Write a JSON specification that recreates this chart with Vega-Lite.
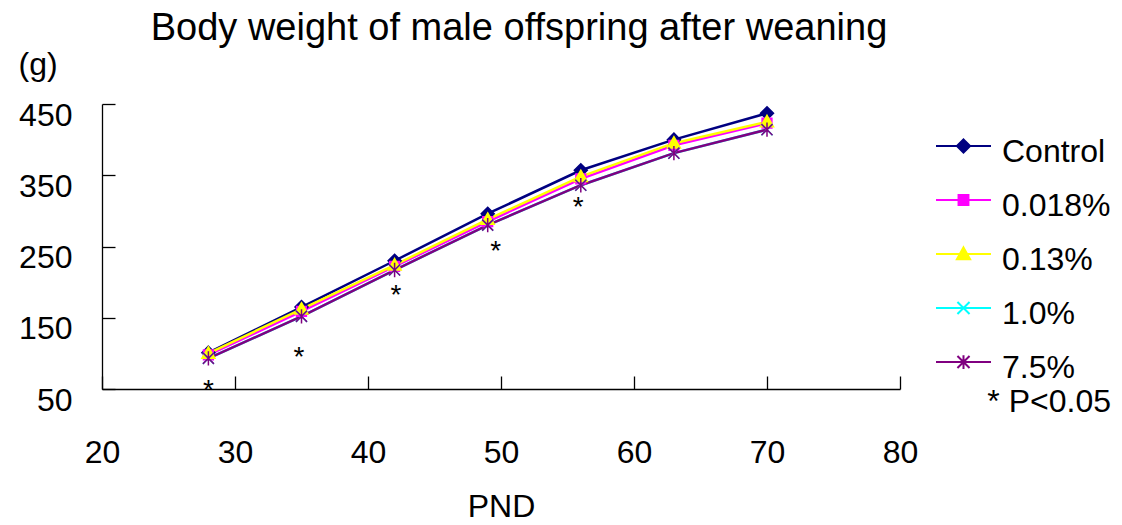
{
  "$schema": "https://vega.github.io/schema/vega-lite/v6.json",
  "width": 798,
  "height": 285,
  "autosize": "none",
  "padding": {"left": 102, "top": 104, "right": 222, "bottom": 136},
  "background": "white",
  "config": {
    "font": "Liberation Sans",
    "view": {"stroke": null},
    "axis": {
      "grid": false, "domainColor": "black", "tickColor": "black", "labelColor": "black", "titleColor": "black",
      "domainWidth": 1.3, "tickWidth": 1.3, "labelFontSize": 32, "titleFontSize": 32, "titleFontWeight": "normal",
      "labelFlush": false, "labelOverlap": false, "tickSize": -13, "labelFont": "Liberation Sans", "titleFont": "Liberation Sans"
    }
  },
  "title": {
    "text": "Body weight of male offspring after weaning",
    "fontSize": 38, "fontWeight": "normal", "font": "Liberation Sans", "color": "black",
    "anchor": "middle", "frame": "group", "dx": 18, "offset": 0
  },
  "datasets": {
    "weights": [
      {"series": "Control", "pnd": 28, "weight": 101},
      {"series": "Control", "pnd": 35, "weight": 165},
      {"series": "Control", "pnd": 42, "weight": 230},
      {"series": "Control", "pnd": 49, "weight": 296},
      {"series": "Control", "pnd": 56, "weight": 357},
      {"series": "Control", "pnd": 63, "weight": 400},
      {"series": "Control", "pnd": 70, "weight": 437},
      {"series": "0.018%", "pnd": 28, "weight": 98},
      {"series": "0.018%", "pnd": 35, "weight": 159},
      {"series": "0.018%", "pnd": 42, "weight": 222},
      {"series": "0.018%", "pnd": 49, "weight": 285},
      {"series": "0.018%", "pnd": 56, "weight": 345},
      {"series": "0.018%", "pnd": 63, "weight": 392},
      {"series": "0.018%", "pnd": 70, "weight": 423},
      {"series": "0.13%", "pnd": 28, "weight": 100},
      {"series": "0.13%", "pnd": 35, "weight": 162},
      {"series": "0.13%", "pnd": 42, "weight": 224},
      {"series": "0.13%", "pnd": 49, "weight": 288},
      {"series": "0.13%", "pnd": 56, "weight": 348},
      {"series": "0.13%", "pnd": 63, "weight": 395},
      {"series": "0.13%", "pnd": 70, "weight": 425},
      {"series": "1.0%", "pnd": 28, "weight": 93},
      {"series": "1.0%", "pnd": 35, "weight": 152},
      {"series": "1.0%", "pnd": 42, "weight": 217},
      {"series": "1.0%", "pnd": 49, "weight": 280},
      {"series": "1.0%", "pnd": 56, "weight": 336},
      {"series": "1.0%", "pnd": 63, "weight": 381},
      {"series": "1.0%", "pnd": 70, "weight": 414},
      {"series": "7.5%", "pnd": 28, "weight": 93},
      {"series": "7.5%", "pnd": 35, "weight": 152},
      {"series": "7.5%", "pnd": 42, "weight": 217},
      {"series": "7.5%", "pnd": 49, "weight": 280},
      {"series": "7.5%", "pnd": 56, "weight": 336},
      {"series": "7.5%", "pnd": 63, "weight": 381},
      {"series": "7.5%", "pnd": 70, "weight": 414}
    ],
    "stars": [
      {"pnd": 28, "weight": 58, "mark": "*"},
      {"pnd": 34.8, "weight": 105, "mark": "*"},
      {"pnd": 42.1, "weight": 192, "mark": "*"},
      {"pnd": 49.6, "weight": 254, "mark": "*"},
      {"pnd": 55.8, "weight": 315, "mark": "*"}
    ]
  },
  "encoding": {
    "x": {
      "field": "pnd", "type": "quantitative",
      "scale": {"domain": [20, 80], "nice": false, "zero": false},
      "axis": {
        "values": [20, 30, 40, 50, 60, 70, 80], "title": "PND",
        "titleX": 399, "titleY": 117, "titleBaseline": "middle", "titleAlign": "center",
        "labelBaseline": "middle", "labelPadding": 76
      }
    },
    "y": {
      "field": "weight", "type": "quantitative",
      "scale": {"domain": [50, 450], "nice": false, "zero": false},
      "axis": {
        "values": [50, 150, 250, 350, 450], "title": "(g)",
        "titleAngle": 0, "titleX": -84, "titleY": -40, "titleAlign": "left", "titleBaseline": "middle",
        "labelAlign": "right", "labelBaseline": "middle", "labelOffset": 11, "labelPadding": 43
      }
    }
  },
  "layer": [
    {
      "data": {"name": "weights"},
      "mark": {"type": "line", "strokeWidth": 2.5},
      "encoding": {
        "color": {
          "field": "series", "type": "nominal", "legend": null,
          "scale": {"domain": ["Control", "0.018%", "0.13%", "1.0%", "7.5%"], "range": ["#000080", "#FF00FF", "#FFFF00", "#00FFFF", "#800080"]}
        }
      }
    },
    {
      "data": {"name": "weights"},
      "mark": {"type": "point", "filled": true, "opacity": 1, "size": 169, "strokeWidth": 1.5},
      "encoding": {
        "color": {
          "field": "series", "type": "nominal", "legend": null,
          "scale": {"domain": ["Control", "0.018%", "0.13%", "1.0%", "7.5%"], "range": ["#000080", "#FF00FF", "#FFFF00", "#00FFFF", "#800080"]}
        },
        "stroke": {
          "field": "series", "type": "nominal", "legend": null,
          "scale": {"domain": ["Control", "0.018%", "0.13%", "1.0%", "7.5%"], "range": ["#000080", "#FF00FF", "#FFFF00", "#00FFFF", "#800080"]}
        },
        "shape": {
          "field": "series", "type": "nominal", "legend": null,
          "scale": {"domain": ["Control", "0.018%", "0.13%", "1.0%", "7.5%"], "range": [
            "M0,-1L1,0L0,1L-1,0Z",
            "M-0.75,-0.75H0.75V0.75H-0.75Z",
            "M0,-1L1,0.75H-1Z",
            "M-0.85,-0.85L0.85,0.85M-0.85,0.85L0.85,-0.85",
            "M-0.85,-0.85L0.85,0.85M-0.85,0.85L0.85,-0.85M0,-1.1V1.1"
          ]}
        }
      }
    },
    {
      "data": {"name": "weights"},
      "mark": {"type": "point", "filled": true, "opacity": 0},
      "encoding": {
        "color": {
          "field": "series", "type": "nominal",
          "scale": {"domain": ["Control", "0.018%", "0.13%", "1.0%", "7.5%"], "range": ["#000080", "#FF00FF", "#FFFF00", "#00FFFF", "#800080"]},
          "legend": {"orient": "none", "legendX": 833, "legendY": 19, "title": "* P<0.05", "titleOrient": "bottom", "titleAnchor": "end", "titleFontSize": 32, "titleFontWeight": "normal", "titleColor": "black", "titlePadding": 3, "labelFontSize": 32, "labelColor": "black", "labelOffset": 10, "labelLimit": 0, "symbolSize": 3025, "symbolStrokeWidth": 2, "symbolStrokeColor": "black", "symbolFillColor": "black", "symbolOpacity": 1, "rowPadding": 9, "padding": 0, "labelBaseline": "middle"}
        },
        "stroke": {
          "field": "series", "type": "nominal",
          "scale": {"domain": ["Control", "0.018%", "0.13%", "1.0%", "7.5%"], "range": ["#000080", "#FF00FF", "#FFFF00", "#00FFFF", "#800080"]},
          "legend": {"orient": "none", "legendX": 833, "legendY": 19, "title": "* P<0.05", "titleOrient": "bottom", "titleAnchor": "end", "titleFontSize": 32, "titleFontWeight": "normal", "titleColor": "black", "titlePadding": 3, "labelFontSize": 32, "labelColor": "black", "labelOffset": 10, "labelLimit": 0, "symbolSize": 3025, "symbolStrokeWidth": 2, "symbolStrokeColor": "black", "symbolFillColor": "black", "symbolOpacity": 1, "rowPadding": 9, "padding": 0, "labelBaseline": "middle"}
        },
        "shape": {
          "field": "series", "type": "nominal",
          "scale": {"domain": ["Control", "0.018%", "0.13%", "1.0%", "7.5%"], "range": [
            "M-1,-0.2H1M0,-0.44L0.24,-0.2L0,0.04L-0.24,-0.2Z",
            "M-1,-0.2H1M-0.18,-0.38H0.18V-0.02H-0.18Z",
            "M-1,-0.2H1M0,-0.44L0.24,-0.01H-0.24Z",
            "M-1,-0.2H1M-0.22,-0.42L0.22,0.02M-0.22,0.02L0.22,-0.42",
            "M-1,-0.2H1M-0.22,-0.42L0.22,0.02M-0.22,0.02L0.22,-0.42M0,-0.45V0.05"
          ]},
          "legend": {"orient": "none", "legendX": 833, "legendY": 19, "title": "* P<0.05", "titleOrient": "bottom", "titleAnchor": "end", "titleFontSize": 32, "titleFontWeight": "normal", "titleColor": "black", "titlePadding": 3, "labelFontSize": 32, "labelColor": "black", "labelOffset": 10, "labelLimit": 0, "symbolSize": 3025, "symbolStrokeWidth": 2, "symbolStrokeColor": "black", "symbolFillColor": "black", "symbolOpacity": 1, "rowPadding": 9, "padding": 0, "labelBaseline": "middle"}
        }
      }
    },
    {
      "data": {"name": "stars"},
      "mark": {"type": "text", "fontSize": 28, "baseline": "middle", "align": "center", "dy": 8, "color": "black", "font": "Liberation Sans"},
      "encoding": {"text": {"field": "mark", "type": "nominal"}}
    }
  ],
  "resolve": {"scale": {"color": "independent", "stroke": "independent", "shape": "independent"}}
}
